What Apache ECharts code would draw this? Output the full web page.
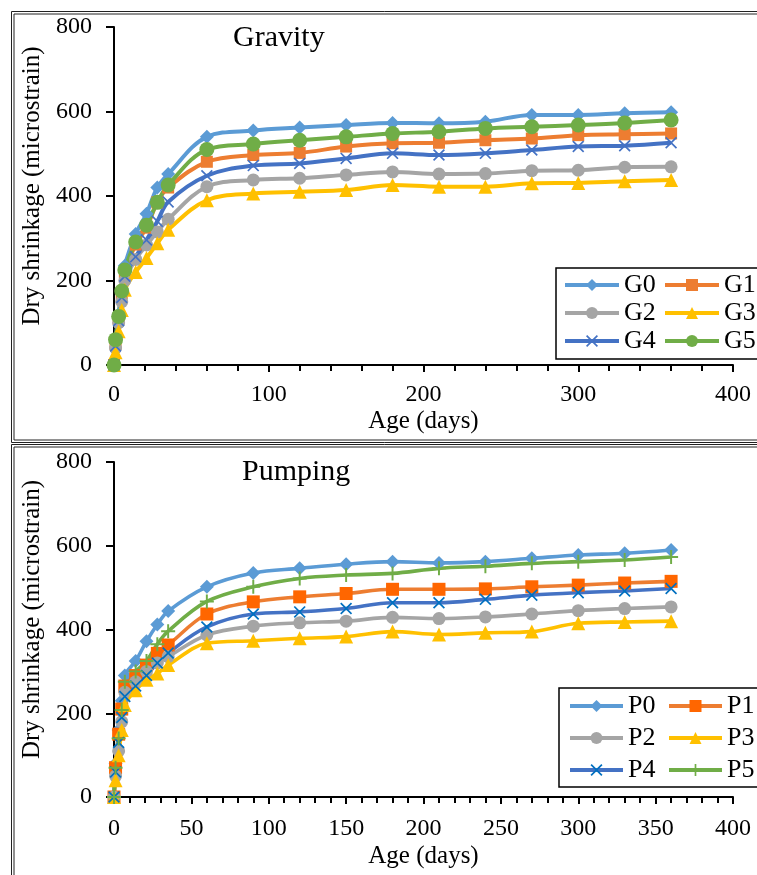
<!DOCTYPE html>
<html><head><meta charset="utf-8">
<script src="https://cdn.jsdelivr.net/npm/echarts@6/dist/echarts.min.js"></script>
<style>html,body{margin:0;padding:0;background:#fff}#c{width:757px;height:875px}</style>
</head><body><div id="c"></div>
<script>
// ---- data (age in days, dry shrinkage in microstrain) ----
const days = [0, 1, 3, 5, 7, 14, 21, 28, 35, 60, 90, 120, 150, 180, 210, 240, 270, 300, 330, 360];

const G0 = [0, 60, 120, 180, 235, 310, 358, 420, 452, 540, 555, 562, 568, 573, 572, 576, 592, 592, 596, 598];
const G1 = [0, 50, 110, 170, 220, 285, 325, 385, 420, 481, 497, 502, 517, 525, 526, 532, 536, 544, 546, 548];
const G2 = [0, 40, 100, 150, 200, 250, 284, 315, 345, 422, 438, 442, 450, 457, 452, 453, 460, 461, 468, 469];
const G3 = [0, 30, 80, 130, 178, 220, 253, 288, 320, 390, 406, 410, 414, 426, 422, 422, 430, 431, 435, 438];
const G4 = [0, 45, 105, 160, 210, 256, 296, 340, 386, 448, 472, 477, 489, 501, 497, 501, 509, 517, 519, 526];
const G5 = [0, 60, 115, 175, 225, 291, 331, 385, 426, 510, 523, 532, 540, 548, 552, 560, 564, 568, 573, 580];

const P0 = [0, 80, 160, 230, 290, 325, 372, 412, 444, 502, 535, 546, 556, 562, 559, 562, 570, 578, 582, 590];
const P1 = [0, 70, 150, 210, 265, 290, 315, 343, 363, 437, 466, 478, 486, 496, 496, 497, 502, 506, 511, 515];
const P2 = [0, 50, 110, 180, 250, 275, 300, 320, 335, 387, 408, 416, 420, 429, 426, 430, 437, 445, 450, 454];
const P3 = [0, 40, 100, 160, 220, 255, 280, 295, 315, 367, 373, 379, 383, 395, 388, 392, 395, 415, 418, 420];
const P4 = [0, 60, 130, 190, 240, 265, 290, 320, 344, 406, 437, 442, 450, 464, 464, 472, 482, 488, 492, 498];
const P5 = [0, 70, 140, 208, 275, 300, 325, 365, 396, 467, 502, 522, 530, 534, 546, 551, 558, 562, 566, 573];

const yTicks = [0, 200, 400, 600, 800];
const xTicksTop = [0, 100, 200, 300, 400];
const xTicksBottom = [0, 50, 100, 150, 200, 250, 300, 350, 400];

const titles = ['Gravity', 'Pumping'];
const yName = 'Dry shrinkage (microstrain)';
const xName = 'Age (days)';
const namesTop = ['G0', 'G1', 'G2', 'G3', 'G4', 'G5'];
const namesBottom = ['P0', 'P1', 'P2', 'P3', 'P4', 'P5'];

// ---- styles ----
const FONT = "'Liberation Serif', 'Times New Roman', serif";
const XSYM = 'path://M2,0 L10,8 L18,0 L20,2 L12,10 L20,18 L18,20 L10,12 L2,20 L0,18 L8,10 L0,2 Z';
const PSYM = 'path://M8.6,0 H11.4 V8.6 H20 V11.4 H11.4 V20 H8.6 V11.4 H0 V8.6 H8.6 Z';

const styleTop = [
  {line: '#5B9BD5', mark: '#5B9BD5', sym: 'diamond', size: 14},
  {line: '#ED7D31', mark: '#ED7D31', sym: 'rect', size: 12},
  {line: '#A5A5A5', mark: '#A5A5A5', sym: 'circle', size: 13},
  {line: '#FFC000', mark: '#FFC000', sym: 'triangle', size: 14},
  {line: '#4472C4', mark: '#4472C4', sym: XSYM, size: 12},
  {line: '#70AD47', mark: '#70AD47', sym: 'circle', size: 15}
];
const styleBottom = [
  {line: '#5B9BD5', mark: '#5B9BD5', sym: 'diamond', size: 14},
  {line: '#ED7D31', mark: '#FF6600', sym: 'rect', size: 13},
  {line: '#A5A5A5', mark: '#A5A5A5', sym: 'circle', size: 13},
  {line: '#FFC000', mark: '#FFC000', sym: 'triangle', size: 14},
  {line: '#4472C4', mark: '#0070C0', sym: XSYM, size: 12},
  {line: '#70AD47', mark: '#70AD47', sym: PSYM, size: 14}
];

function pairs(vals) { return days.map((d, i) => [d, vals[i]]); }

function mkSeries(name, vals, st, idx, lw) {
  return {
    name: name, type: 'line', xAxisIndex: idx, yAxisIndex: idx,
    data: pairs(vals), smooth: 0.35,
    symbol: st.sym, symbolSize: st.size, showSymbol: true,
    lineStyle: {color: st.line, width: lw},
    itemStyle: {color: st.mark, borderWidth: 0},
    emphasis: {disabled: true}, animation: false
  };
}

const topData = [G0, G1, G2, G3, G4, G5];
const botData = [P0, P1, P2, P3, P4, P5];
const series = [];
namesTop.forEach((n, i) => series.push(mkSeries(n, topData[i], styleTop[i], 0, 4)));
namesBottom.forEach((n, i) => series.push(mkSeries(n, botData[i], styleBottom[i], 1, 3.6)));

function xAxis(idx, ticks, labelMargin, nameGap) {
  return {
    type: 'value', gridIndex: idx,
    min: ticks[0], max: ticks[ticks.length - 1], interval: ticks[1] - ticks[0],
    name: xName, nameLocation: 'middle', nameGap: nameGap,
    nameTextStyle: {fontFamily: FONT, fontSize: 25, color: '#000'},
    axisLine: {show: true, onZero: false, lineStyle: {color: '#000', width: 2}},
    axisTick: {show: true, inside: false, length: 7, lineStyle: {color: '#000', width: 2}},
    minorTick: {show: true, splitNumber: 5, length: 6, lineStyle: {color: '#000', width: 2}},
    splitLine: {show: false}, minorSplitLine: {show: false},
    axisLabel: {fontFamily: FONT, fontSize: 24, color: '#000', margin: labelMargin}
  };
}
function yAxis(idx) {
  return {
    type: 'value', gridIndex: idx,
    min: yTicks[0], max: yTicks[yTicks.length - 1], interval: yTicks[1] - yTicks[0],
    name: yName, nameLocation: 'middle', nameGap: 66, nameRotate: 90,
    nameTextStyle: {fontFamily: FONT, fontSize: 25, color: '#000', padding: [0, 0, 0, 20]},
    axisLine: {show: true, onZero: false, lineStyle: {color: '#000', width: 2}},
    axisTick: {show: true, inside: false, length: 8, lineStyle: {color: '#000', width: 2}},
    splitLine: {show: false},
    axisLabel: {fontFamily: FONT, fontSize: 24, color: '#000', margin: 22}
  };
}

function legend(names, left, top, pad, iw, tw, gap) {
  return {
    data: names, orient: 'horizontal', left: left, top: top, width: 230,
    padding: pad, itemGap: gap, itemWidth: iw, itemHeight: 15,
    borderColor: '#000', borderWidth: 1.5, backgroundColor: '#fff',
    lineStyle: {width: 4},
    textStyle: {fontFamily: FONT, fontSize: 26, color: '#000', width: tw, lineHeight: 26, padding: 0},
    selectedMode: false
  };
}

const chart = echarts.init(document.getElementById('c'), null, {renderer: 'canvas'});
chart.setOption({
  backgroundColor: '#fff',
  animation: false,
  title: [
    {text: titles[0], left: 228, top: 18, padding: 5, textStyle: {fontFamily: FONT, fontSize: 30, fontWeight: 'normal', color: '#000'}},
    {text: titles[1], left: 237, top: 452, padding: 5, textStyle: {fontFamily: FONT, fontSize: 30, fontWeight: 'normal', color: '#000'}}
  ],
  grid: [
    {left: 114, top: 27, width: 619, height: 338},
    {left: 114, top: 462, width: 619, height: 335}
  ],
  xAxis: [xAxis(0, xTicksTop, 18, 44), xAxis(1, xTicksBottom, 20, 47)],
  yAxis: [yAxis(0), yAxis(1)],
  legend: [
    legend(namesTop, 556, 268, [4, 10, 5, 7], 54, 37, 2),
    legend(namesBottom, 559, 688, [5, 10, 4, 9], 53, 33, 6)
  ],
  graphic: [
    {type: 'rect', silent: true, z: -1, shape: {x: 11.5, y: 11.5, width: 780, height: 431}, style: {fill: null, stroke: '#222', lineWidth: 1}},
    {type: 'rect', silent: true, z: -1, shape: {x: 14, y: 14, width: 780, height: 426}, style: {fill: null, stroke: '#222', lineWidth: 1}},
    {type: 'rect', silent: true, z: -1, shape: {x: 11.5, y: 444.5, width: 780, height: 500}, style: {fill: null, stroke: '#222', lineWidth: 1}},
    {type: 'rect', silent: true, z: -1, shape: {x: 14, y: 447, width: 780, height: 500}, style: {fill: null, stroke: '#222', lineWidth: 1}}
  ],
  series: series
});
</script>
</body></html>
